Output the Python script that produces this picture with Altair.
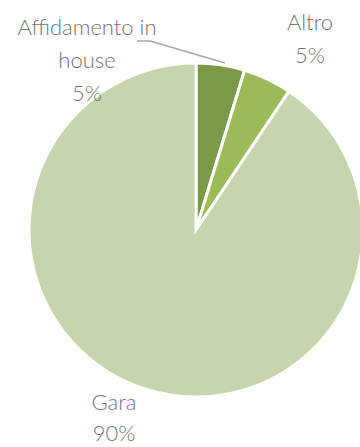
import altair as alt
import pandas as pd

categories = ["Affidamento in house", "Altro", "Gara"]
display = ["Affidamento in\nhouse", "Altro", "Gara"]
values = [4.7, 4.7, 90.6]
pct_labels = ["5%", "5%", "90%"]
colors = ["#7B9A48", "#9CBB58", "#C6D5AD"]

df = pd.DataFrame({
    "cat": categories,
    "disp": display,
    "value": values,
    "pct": pct_labels,
    "idx": list(range(len(categories))),
})
df["label"] = df["disp"] + "\n" + df["pct"]

CX, CY, R = 196, 230, 167

pie = alt.Chart(df).mark_arc(radius=R, stroke="white", strokeWidth=3).encode(
    theta=alt.Theta("value:Q", stack=True),
    order=alt.Order("idx:Q"),
    color=alt.Color("cat:N", scale=alt.Scale(domain=categories, range=colors), legend=None),
    x=alt.value(CX),
    y=alt.value(CY),
)

def label(cat, x, y, lh=33):
    return alt.Chart(df).transform_filter(alt.datum.cat == cat).mark_text(
        font="Lato", fontSize=22, fontWeight=300, color="#747474", align="center",
        baseline="alphabetic", lineBreak="\n", lineHeight=lh,
    ).encode(text="label:N", x=alt.value(x), y=alt.value(y))

leader1 = alt.Chart(df).transform_filter(alt.datum.idx == 0).mark_rule(
    color="#A6A6A6", strokeWidth=1.5).encode(
    x=alt.value(137), y=alt.value(41), x2=alt.value(150), y2=alt.value(41))
leader2 = alt.Chart(df).transform_filter(alt.datum.idx == 0).mark_rule(
    color="#A6A6A6", strokeWidth=1.5).encode(
    x=alt.value(150), y=alt.value(41), x2=alt.value(225), y2=alt.value(63))

chart = alt.layer(
    pie,
    leader1, leader2,
    label("Affidamento in house", 87, 35),
    label("Altro", 310, 30),
    label("Gara", 114, 410, 31),
).properties(
    width=360, height=447, padding=0, autosize=alt.AutoSizeParams(type="none"),
).configure_view(stroke=None)

chart.save("out.html", embed_options={"renderer": "svg", "actions": False})
